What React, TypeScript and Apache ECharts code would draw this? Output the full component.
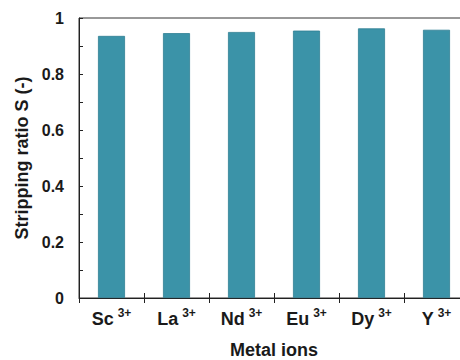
import React, { useEffect, useRef } from "react";
import * as echarts from "echarts";

const categories = ["Sc", "La", "Nd", "Eu", "Dy", "Y"];
const charge = "3+";
const strippingRatio = [0.936, 0.946, 0.95, 0.955, 0.963, 0.958];
const yTicks = { min: 0, max: 1, interval: 0.2 };

export default function App() {
  const ref = useRef<HTMLDivElement>(null);
  useEffect(() => {
    if (!ref.current) return;
    const chart = echarts.init(ref.current, null, { renderer: "svg" });
    const font = "Liberation Sans, Arial, sans-serif";
    const col = "#1a1a1a";
    const gridBox = { left: 79, right: -9, top: 18, bottom: 62, outerBoundsMode: "none" };
    chart.setOption({
      animation: false,
      grid: [
        {
          ...gridBox,
          show: true,
          borderColor: "#333",
          borderWidth: 1,
          backgroundColor: "transparent",
        },
        { ...gridBox, show: false },
      ],
      xAxis: [
        {
          type: "category",
          gridIndex: 0,
          data: categories,
          boundaryGap: true,
          axisLine: { lineStyle: { color: "#222", width: 1 } },
          axisTick: { show: true, interval: 0, alignWithLabel: false, inside: false, length: 5, lineStyle: { color: "#222", width: 1 } },
          axisLabel: {
            interval: 0,
            margin: 10,
            formatter: (v: string) => `{b|${v}}{s|${charge}}`,
            rich: {
              b: { fontSize: 18, fontWeight: "bold", color: col, fontFamily: font, lineHeight: 22 },
              s: { fontSize: 12, fontWeight: "bold", color: col, fontFamily: font, lineHeight: 22, padding: [0, 0, 12, 4] },
            },
          },
          name: "Metal ions",
          nameLocation: "middle",
          nameGap: 43,
          nameTextStyle: { fontSize: 18, lineHeight: 18, fontWeight: "bold", color: col, fontFamily: font },
        },
        {
          type: "category",
          gridIndex: 1,
          data: categories,
          position: "bottom",
          boundaryGap: true,
          axisLine: { show: false },
          axisTick: { show: true, interval: 0, alignWithLabel: false, inside: true, length: 5, lineStyle: { color: "#222", width: 1 } },
          axisLabel: { show: false },
        },
      ],
      yAxis: [
        {
          type: "value",
          gridIndex: 0,
          min: yTicks.min,
          max: yTicks.max,
          interval: yTicks.interval,
          axisLine: { show: true, lineStyle: { color: "#222", width: 1 } },
          axisTick: { show: true, inside: true, length: 4, lineStyle: { color: "#222" } },
          minorTick: { show: true, splitNumber: 2, length: 4, lineStyle: { color: "#222" } },
          splitLine: { show: false },
          axisLabel: {
            margin: 15,
            fontSize: 16,
            fontWeight: "bold",
            color: col,
            fontFamily: font,
            formatter: (v: number) => (v === 0 || v === 1 ? String(v) : v.toFixed(1)),
          },
          name: "Stripping ratio S (-)",
          nameLocation: "middle",
          nameGap: 47,
          nameTextStyle: { fontSize: 18, fontWeight: "bold", color: col, fontFamily: font },
        },
        {
          type: "value",
          gridIndex: 1,
          min: yTicks.min,
          max: yTicks.max,
          show: false,
        },
      ],
      series: [
        {
          type: "bar",
          xAxisIndex: 0,
          yAxisIndex: 0,
          data: strippingRatio,
          barWidth: 27,
          itemStyle: { color: "#3b93a8", borderColor: "#2f7f93", borderWidth: 0.8 },
        },
      ],
    });
    return () => chart.dispose();
  }, []);
  return <div ref={ref} style={{ width: 460, height: 360, position: "absolute", left: 0, top: 0 }} />;
}
